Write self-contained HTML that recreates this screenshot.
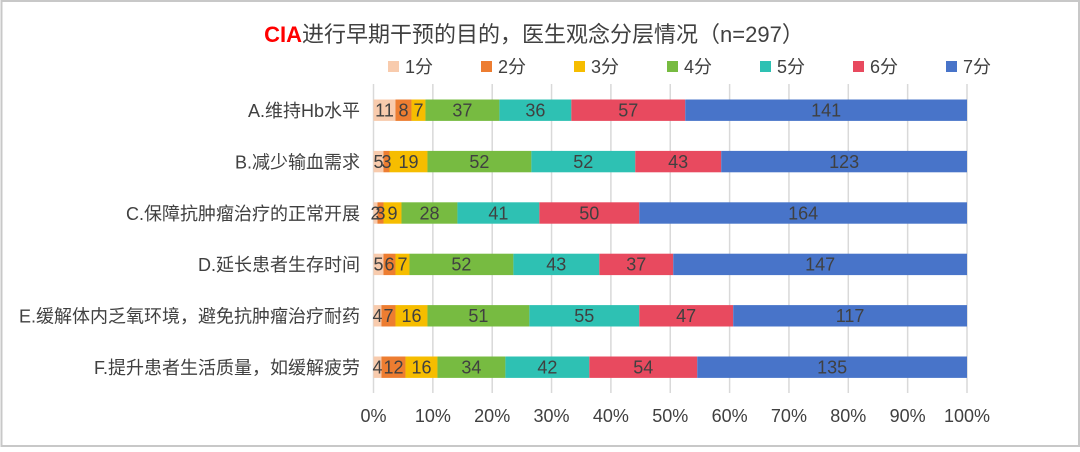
<!DOCTYPE html>
<html><head><meta charset="utf-8"><style>
html,body{margin:0;padding:0;background:#fff;}
svg{display:block;}
text{font-family:"Liberation Sans","Noto Sans CJK SC",sans-serif;}
</style></head><body>
<svg width="1080" height="452" viewBox="0 0 1080 452" xmlns="http://www.w3.org/2000/svg">
<rect x="0" y="0" width="1080" height="452" fill="#fff"/>
<rect x="1.5" y="1" width="1077.5" height="445" fill="none" stroke="#c8c8c8" stroke-width="2"/>
<text x="534" y="42" text-anchor="middle" font-size="22" fill="#404040"><tspan fill="#ff0000" font-weight="bold">CIA</tspan>进行早期干预的目的，医生观念分层情况（n=297）</text>
<g font-size="18" fill="#404040">
<rect x="388" y="61" width="11" height="11" fill="#F8CBAD"/><text x="405" y="73">1分</text>
<rect x="481" y="61" width="11" height="11" fill="#ED7D31"/><text x="498" y="73">2分</text>
<rect x="574" y="61" width="11" height="11" fill="#F6BD00"/><text x="591" y="73">3分</text>
<rect x="667" y="61" width="11" height="11" fill="#77BB41"/><text x="684" y="73">4分</text>
<rect x="760" y="61" width="11" height="11" fill="#2EC1B3"/><text x="777" y="73">5分</text>
<rect x="853" y="61" width="11" height="11" fill="#E84A5F"/><text x="870" y="73">6分</text>
<rect x="946" y="61" width="11" height="11" fill="#4874C9"/><text x="963" y="73">7分</text>
</g>
<g stroke="#D9D9D9" stroke-width="1.5">
<line x1="373.5" y1="84" x2="373.5" y2="393"/>
<line x1="432.85" y1="84" x2="432.85" y2="393"/>
<line x1="492.2" y1="84" x2="492.2" y2="393"/>
<line x1="551.55" y1="84" x2="551.55" y2="393"/>
<line x1="610.9" y1="84" x2="610.9" y2="393"/>
<line x1="670.25" y1="84" x2="670.25" y2="393"/>
<line x1="729.6" y1="84" x2="729.6" y2="393"/>
<line x1="788.95" y1="84" x2="788.95" y2="393"/>
<line x1="848.3" y1="84" x2="848.3" y2="393"/>
<line x1="907.65" y1="84" x2="907.65" y2="393"/>
<line x1="967" y1="84" x2="967" y2="393"/>
</g>
<!-- A -->
<g>
<rect x="373.5" y="99.5" width="21.98" height="21.4" fill="#F8CBAD"/>
<rect x="395.48" y="99.5" width="15.99" height="21.4" fill="#ED7D31"/>
<rect x="411.47" y="99.5" width="13.99" height="21.4" fill="#F6BD00"/>
<rect x="425.46" y="99.5" width="73.94" height="21.4" fill="#77BB41"/>
<rect x="499.4" y="99.5" width="71.93" height="21.4" fill="#2EC1B3"/>
<rect x="571.33" y="99.5" width="113.91" height="21.4" fill="#E84A5F"/>
<rect x="685.24" y="99.5" width="281.76" height="21.4" fill="#4874C9"/>
</g>
<!-- B -->
<g>
<rect x="373.5" y="150.9" width="9.99" height="21.4" fill="#F8CBAD"/>
<rect x="383.49" y="150.9" width="6" height="21.4" fill="#ED7D31"/>
<rect x="389.49" y="150.9" width="37.97" height="21.4" fill="#F6BD00"/>
<rect x="427.46" y="150.9" width="103.91" height="21.4" fill="#77BB41"/>
<rect x="531.37" y="150.9" width="103.91" height="21.4" fill="#2EC1B3"/>
<rect x="635.28" y="150.9" width="85.93" height="21.4" fill="#E84A5F"/>
<rect x="721.21" y="150.9" width="245.79" height="21.4" fill="#4874C9"/>
</g>
<!-- C -->
<g>
<rect x="373.5" y="202.3" width="4" height="21.4" fill="#F8CBAD"/>
<rect x="377.5" y="202.3" width="5.99" height="21.4" fill="#ED7D31"/>
<rect x="383.49" y="202.3" width="17.99" height="21.4" fill="#F6BD00"/>
<rect x="401.48" y="202.3" width="55.95" height="21.4" fill="#77BB41"/>
<rect x="457.43" y="202.3" width="81.93" height="21.4" fill="#2EC1B3"/>
<rect x="539.36" y="202.3" width="99.92" height="21.4" fill="#E84A5F"/>
<rect x="639.28" y="202.3" width="327.72" height="21.4" fill="#4874C9"/>
</g>
<!-- D -->
<g>
<rect x="373.5" y="253.7" width="9.99" height="21.4" fill="#F8CBAD"/>
<rect x="383.49" y="253.7" width="11.99" height="21.4" fill="#ED7D31"/>
<rect x="395.48" y="253.7" width="13.99" height="21.4" fill="#F6BD00"/>
<rect x="409.47" y="253.7" width="103.91" height="21.4" fill="#77BB41"/>
<rect x="513.38" y="253.7" width="85.93" height="21.4" fill="#2EC1B3"/>
<rect x="599.31" y="253.7" width="73.94" height="21.4" fill="#E84A5F"/>
<rect x="673.25" y="253.7" width="293.75" height="21.4" fill="#4874C9"/>
</g>
<!-- E -->
<g>
<rect x="373.5" y="305.1" width="7.99" height="21.4" fill="#F8CBAD"/>
<rect x="381.49" y="305.1" width="13.99" height="21.4" fill="#ED7D31"/>
<rect x="395.48" y="305.1" width="31.98" height="21.4" fill="#F6BD00"/>
<rect x="427.46" y="305.1" width="101.91" height="21.4" fill="#77BB41"/>
<rect x="529.37" y="305.1" width="109.91" height="21.4" fill="#2EC1B3"/>
<rect x="639.28" y="305.1" width="93.92" height="21.4" fill="#E84A5F"/>
<rect x="733.2" y="305.1" width="233.8" height="21.4" fill="#4874C9"/>
</g>
<!-- F -->
<g>
<rect x="373.5" y="356.5" width="7.99" height="21.4" fill="#F8CBAD"/>
<rect x="381.49" y="356.5" width="23.98" height="21.4" fill="#ED7D31"/>
<rect x="405.47" y="356.5" width="31.98" height="21.4" fill="#F6BD00"/>
<rect x="437.45" y="356.5" width="67.94" height="21.4" fill="#77BB41"/>
<rect x="505.39" y="356.5" width="83.93" height="21.4" fill="#2EC1B3"/>
<rect x="589.32" y="356.5" width="107.91" height="21.4" fill="#E84A5F"/>
<rect x="697.23" y="356.5" width="269.77" height="21.4" fill="#4874C9"/>
</g>
<g font-size="18" fill="#404040" text-anchor="middle">
<text x="384.5" y="116.5">11</text><text x="403.5" y="116.5">8</text><text x="418.5" y="116.5">7</text><text x="462.4" y="116.5">37</text><text x="535.4" y="116.5">36</text><text x="628.3" y="116.5">57</text><text x="826.1" y="116.5">141</text>
<text x="378.5" y="167.9">5</text><text x="386.5" y="167.9">3</text><text x="408.5" y="167.9">19</text><text x="479.4" y="167.9">52</text><text x="583.3" y="167.9">52</text><text x="678.2" y="167.9">43</text><text x="844.1" y="167.9">123</text>
<text x="375.5" y="219.3">2</text><text x="380.5" y="219.3">3</text><text x="392.5" y="219.3">9</text><text x="429.5" y="219.3">28</text><text x="498.4" y="219.3">41</text><text x="589.3" y="219.3">50</text><text x="803.1" y="219.3">164</text>
<text x="378.5" y="270.7">5</text><text x="389.5" y="270.7">6</text><text x="402.5" y="270.7">7</text><text x="461.4" y="270.7">52</text><text x="556.3" y="270.7">43</text><text x="636.3" y="270.7">37</text><text x="820.1" y="270.7">147</text>
<text x="377.5" y="322.1">4</text><text x="388.5" y="322.1">7</text><text x="411.5" y="322.1">16</text><text x="478.4" y="322.1">51</text><text x="584.3" y="322.1">55</text><text x="686.2" y="322.1">47</text><text x="850.1" y="322.1">117</text>
<text x="377.5" y="373.5">4</text><text x="393.5" y="373.5">12</text><text x="421.5" y="373.5">16</text><text x="471.4" y="373.5">34</text><text x="547.4" y="373.5">42</text><text x="643.3" y="373.5">54</text><text x="832.1" y="373.5">135</text>
</g>
<g font-size="18" fill="#404040" text-anchor="end">
<text x="360" y="117">A.维持Hb水平</text>
<text x="360" y="168.4">B.减少输血需求</text>
<text x="360" y="219.8">C.保障抗肿瘤治疗的正常开展</text>
<text x="360" y="271.2">D.延长患者生存时间</text>
<text x="360" y="322.6">E.缓解体内乏氧环境，避免抗肿瘤治疗耐药</text>
<text x="360" y="374">F.提升患者生活质量，如缓解疲劳</text>
</g>
<g font-size="18" fill="#404040" text-anchor="middle">
<text x="373.5" y="422">0%</text>
<text x="432.85" y="422">10%</text>
<text x="492.2" y="422">20%</text>
<text x="551.55" y="422">30%</text>
<text x="610.9" y="422">40%</text>
<text x="670.25" y="422">50%</text>
<text x="729.6" y="422">60%</text>
<text x="788.95" y="422">70%</text>
<text x="848.3" y="422">80%</text>
<text x="907.65" y="422">90%</text>
<text x="967" y="422">100%</text>
</g>
</svg>
</body></html>
